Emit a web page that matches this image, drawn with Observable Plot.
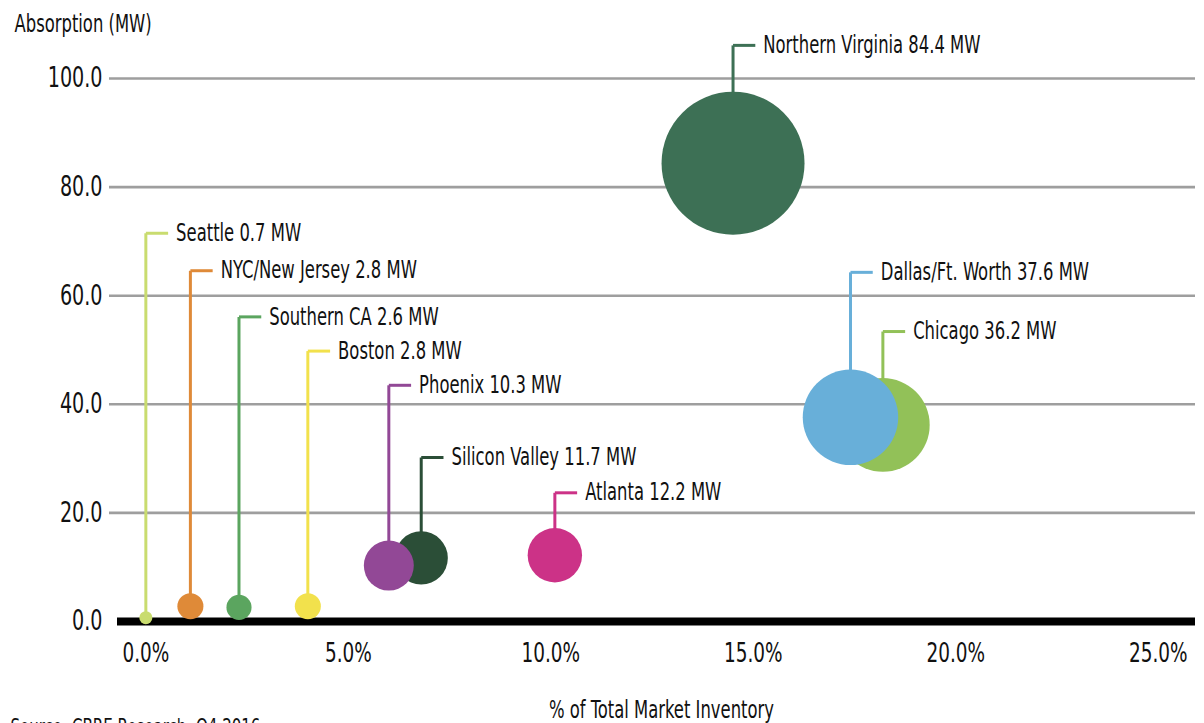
<!DOCTYPE html>
<html>
<head>
<meta charset="utf-8">
<script src="https://cdn.jsdelivr.net/npm/d3@7"></script>
<script src="https://cdn.jsdelivr.net/npm/@observablehq/plot@0.6"></script>
<style>
  html, body { margin: 0; padding: 0; background: #ffffff; overflow: hidden; }
  #chart svg { display: block; }
</style>
</head>
<body>
<div id="chart"></div>
<script>
// ---- Data ----
const markets    = ["Seattle", "NYC/New Jersey", "Southern CA", "Boston", "Silicon Valley", "Phoenix", "Atlanta", "Northern Virginia", "Chicago", "Dallas/Ft. Worth"];
const inventoryPct = [0.0, 1.1, 2.3, 4.0, 6.8, 6.0, 10.1, 14.5, 18.2, 17.4];   // % of total market inventory
const absorptionMW = [0.7, 2.8, 2.6, 2.8, 11.7, 10.3, 12.2, 84.4, 36.2, 37.6]; // absorption (MW)
const labelHeight  = [71.5, 64.6, 56.1, 49.8, 30.2, 43.5, 23.7, 106.1, 53.4, 64.3]; // where each callout label sits (MW units)
const marketColors = ["#c9dc6f", "#df8a38", "#5ba55f", "#f2e14c", "#2b4e37", "#924896", "#cc3287", "#3d7055", "#92c158", "#68afd9"];

const xTicks = [0, 5, 10, 15, 20, 25];
const yTicks = [0, 20, 40, 60, 80, 100];

const yTitle = "Absorption (MW)";
const xTitle = "% of Total Market Inventory";
const source = "Source: CBRE Research, Q4 2016";

const rows = markets.map((m, i) => ({
  market: m, x: inventoryPct[i], y: absorptionMW[i], ly: labelHeight[i], color: marketColors[i]
}));

const FONT = "'Liberation Sans Narrow', 'DejaVu Sans Condensed', 'Arial Narrow', sans-serif";

const chart = Plot.plot({
  width: 1204,
  height: 723,
  marginLeft: 117,
  marginRight: 9,
  marginTop: 23.7,
  marginBottom: 102,
  style: { fontFamily: FONT, background: "#ffffff", color: "#111" },
  x: { domain: [-0.70, 25.92] },
  y: { domain: [0, 110] },
  r: { range: [0, 71.5] },
  color: { type: "identity" },
  marks: [
    Plot.ruleY(yTicks.filter(d => d > 0), { stroke: "#9e9e9e", strokeWidth: 2.6, insetLeft: -8 }),
    Plot.ruleY([0], { stroke: "#000000", strokeWidth: 8 }),
    Plot.axisY({ ticks: yTicks, tickSize: 0, tickPadding: 15, fontSize: 28, tickFormat: d => d.toFixed(1), label: null }),
    Plot.axisX({ ticks: xTicks, tickSize: 0, tickPadding: 21, fontSize: 27, tickFormat: d => d.toFixed(1) + "%", label: null }),
    // callout leaders
    Plot.link(rows, { x1: "x", x2: "x", y1: "y", y2: "ly", stroke: "color", strokeWidth: 3 }),
    Plot.link(rows, { x1: "x", x2: d => d.x + 0.55, y1: "ly", y2: "ly", stroke: "color", strokeWidth: 3 }),
    // bubbles (area ~ absorption), drawn in listed order
    Plot.dot(rows, { x: "x", y: "y", r: "y", fill: "color", sort: null }),
    // callout labels
    Plot.text(rows, {
      x: d => d.x + 0.55, y: "ly", dx: 8,
      text: d => `${d.market} ${d.y.toFixed(1)} MW`,
      textAnchor: "start", lineAnchor: "middle", fontSize: 24, fill: "#111"
    }),
    // titles
    Plot.text([yTitle], { frameAnchor: "top-left", dx: -103, dy: 0, textAnchor: "start", lineAnchor: "middle", fontSize: 24, fill: "#111" }),
    Plot.text([xTitle], { frameAnchor: "bottom", dx: 5, dy: 89, lineAnchor: "middle", fontSize: 24, fill: "#111" }),
    Plot.text([source], { frameAnchor: "bottom-left", dx: -107, dy: 97, textAnchor: "start", lineAnchor: "top", fontSize: 22, fill: "#111" })
  ]
});

document.getElementById("chart").appendChild(chart);

// condense the type to mimic the narrow face of the original
chart.querySelectorAll("text").forEach(t => {
  const len = t.getComputedTextLength();
  if (len > 0) {
    t.setAttribute("textLength", (len * 0.76).toFixed(1));
    t.setAttribute("lengthAdjust", "spacingAndGlyphs");
  }
});
</script>
</body>
</html>
